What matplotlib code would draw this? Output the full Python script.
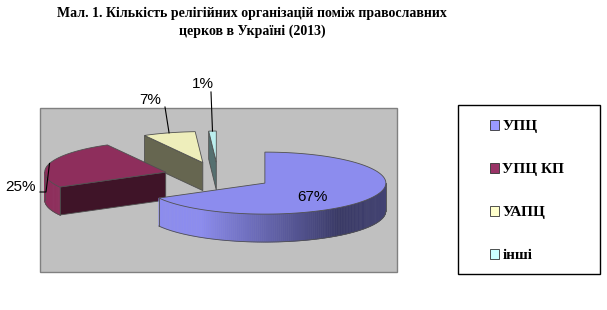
import numpy as np
import matplotlib
matplotlib.use('Agg')
import matplotlib.pyplot as plt
from matplotlib.patches import Polygon, Rectangle, Patch
from matplotlib.colors import to_rgb

# ---- data ----
categories = ['УПЦ', 'УПЦ КП', 'УАПЦ', 'інші']
shares = [67, 25, 7, 1]
label_texts = ['67%', '25%', '7%', '1%']
title = 'Мал. 1. Кількість релігійних організацій поміж православних\nцерков в Україні (2013)'

# ---- styles / layout ----
legend_colors = ['#9999FF', '#993366', '#FFFFCC', '#CCFFFF']
top_colors = ['#8C8CEE', '#8E2E5C', '#EEEEBB', '#BBEEEE']
dark_colors = ['#3A3A66', '#3F1428', '#666650', '#557070']
EDGE = '#505050'

W, H = 607, 310
C = (218.0, 176.0)     # pie centre (pixels)
RX, RY = 121.0, 31.0   # ellipse radii
DEPTH = 28.0
EXPLODE = 0.45

label_xy = [(312, 197), (20, 187), (150, 100), (203, 84)]
leader_pts = [None, [(46, 192), (40, 192)], [(165, 107)], [(211, 92)]]

plt.rcParams['font.family'] = ['Liberation Serif', 'DejaVu Serif']

fig = plt.figure(figsize=(W / 100, H / 100), dpi=100)
ax = fig.add_axes([0, 0, 1, 1])
ax.set_xlim(0, W)
ax.set_ylim(H, 0)
ax.axis('off')

# plot area
ax.add_patch(Rectangle((40, 108), 357, 164, fc='#C0C0C0', ec='#808080', lw=1.0, zorder=0))


def pt(c, th, r=1.0, dz=0.0):
    t = np.radians(th)
    return (c[0] + r * RX * np.sin(t), c[1] - r * RY * np.cos(t) + dz)


def mix(c1, c2, t):
    a, b = np.array(to_rgb(c1)), np.array(to_rgb(c2))
    return tuple(a + (b - a) * t)


def shade(th):
    # lighting of the curved wall
    if th >= 143:
        t = np.clip((th - 143) / (212 - 143), 0, 1)
    else:
        t = 0.12 * (143 - th) / 53
    return t


n = len(shares)
cum = np.concatenate([[0], np.cumsum(shares)]) / sum(shares) * 360
mids = (cum[:-1] + cum[1:]) / 2
apexes = [pt(C, m, EXPLODE) for m in mids]
order = sorted(range(n), key=lambda i: apexes[i][1])

z = 1
for i in order:
    a0, a1 = cum[i], cum[i + 1]
    apex = apexes[i]
    # radial walls
    for edge, normal in ((a0, a0 - 90), (a1, a1 + 90)):
        if np.cos(np.radians(normal)) < -1e-6:
            o = pt(apex, edge)
            quad = [apex, o, (o[0], o[1] + DEPTH), (apex[0], apex[1] + DEPTH)]
            ax.add_patch(Polygon(quad, closed=True, fc=dark_colors[i], ec=EDGE, lw=0.6, zorder=z))
    # curved wall
    lo, hi = max(a0, 90), min(a1, 270)
    if hi > lo:
        ths = np.linspace(lo, hi, int(hi - lo) + 2)
        for k in range(len(ths) - 1):
            p1, p2 = pt(apex, ths[k]), pt(apex, ths[k + 1])
            col = mix(dark_colors[i], top_colors[i], shade((ths[k] + ths[k + 1]) / 2))
            quad = [p1, p2, (p2[0], p2[1] + DEPTH), (p1[0], p1[1] + DEPTH)]
            ax.add_patch(Polygon(quad, closed=True, fc=col, ec=col, lw=0.4, zorder=z))
        bottom = [pt(apex, t, dz=DEPTH) for t in ths]
        ax.plot([p[0] for p in bottom], [p[1] for p in bottom], color=EDGE, lw=0.6, zorder=z + 0.5)
        for t in (lo, hi):
            p = pt(apex, t)
            ax.plot([p[0], p[0]], [p[1], p[1] + DEPTH], color=EDGE, lw=0.6, zorder=z + 0.5)
    # top face
    ths = np.linspace(a0, a1, max(3, int(a1 - a0) + 2))
    poly = [apex] + [pt(apex, t) for t in ths]
    ax.add_patch(Polygon(poly, closed=True, fc=top_colors[i], ec=EDGE, lw=0.6, zorder=z + 0.6))
    z += 1

# labels and leaders
for i in range(n):
    ax.text(label_xy[i][0], label_xy[i][1], label_texts[i], ha='center', va='center',
            fontsize=11, family='Liberation Sans', zorder=20)
    if leader_pts[i]:
        start = pt(apexes[i], mids[i])
        xs = [start[0]] + [p[0] for p in leader_pts[i]]
        ys = [start[1]] + [p[1] for p in leader_pts[i]]
        ax.plot(xs, ys, color='black', lw=0.8, zorder=20)

# title
ax.text(252, 7, title, ha='center', va='top', fontsize=10, weight='bold', linespacing=1.45)

# legend
ax.add_patch(Rectangle((458, 105), 142, 169, fc='white', ec='black', lw=1.0, zorder=0))
handles = [Patch(fc=legend_colors[i], ec='#333333', lw=0.6) for i in range(n)]
leg = ax.legend(handles, categories, loc='upper left', bbox_to_anchor=(490, 120),
                bbox_transform=ax.transData, frameon=False,
                handlelength=0.6, handleheight=0.6, handletextpad=0.2,
                labelspacing=1.95, borderpad=0, borderaxespad=0,
                prop={'family': 'Liberation Serif', 'weight': 'bold', 'size': 11})

fig.savefig('out.png', dpi=100)
